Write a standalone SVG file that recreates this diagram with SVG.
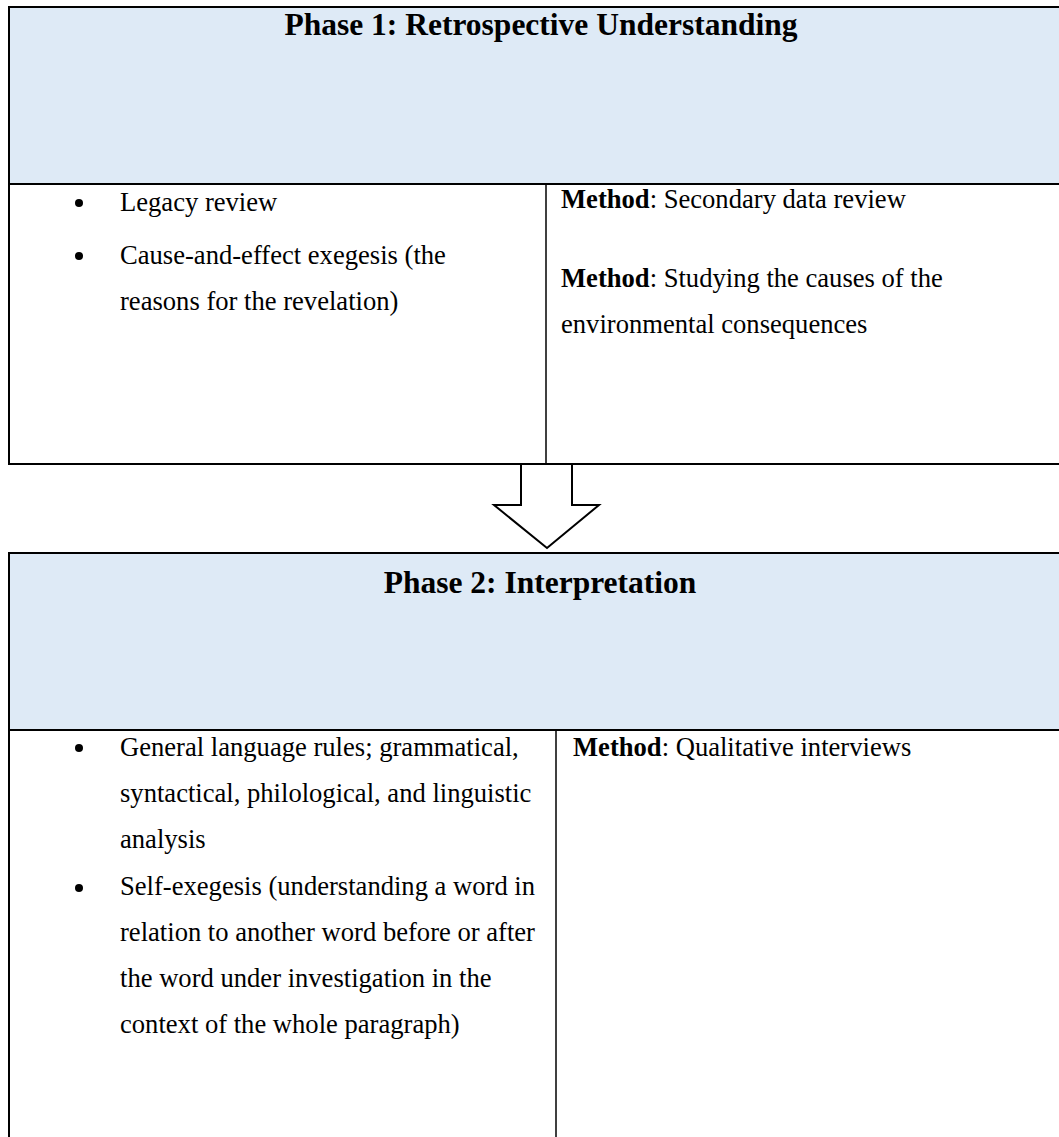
<svg xmlns="http://www.w3.org/2000/svg" width="1059" height="1137" viewBox="0 0 1059 1137">
<style>
.hdr{fill:#DEEAF6;stroke:none}
.line{stroke:#000;stroke-width:2;fill:none}
.div{stroke:#000;stroke-width:1.5;fill:none}
.title{font-family:"Liberation Serif","Times New Roman",serif;font-weight:bold;font-size:31.5px;fill:#000;text-anchor:middle}
.t{font-family:"Liberation Serif","Times New Roman",serif;font-size:26.6px;fill:#000}
.b{font-weight:bold}
.bul{fill:#000}
.arrow{stroke:#000;stroke-width:2;fill:#fff}
</style>
<rect width="1059" height="1137" fill="#fff"/>
<g id="phase1">
<rect class="hdr" x="9" y="7" width="1060" height="177"/>
<path class="line" d="M1070,7 H9 V464 H1070 M9,184 H1070"/>
<path class="div" d="M546,184 V464"/>
<text class="title" x="541" y="35">Phase 1: Retrospective Understanding</text>
<circle class="bul" cx="79" cy="203" r="4"/>
<text class="t" x="120" y="211">Legacy review</text>
<circle class="bul" cx="79" cy="256" r="4"/>
<text class="t" x="120" y="264">Cause-and-effect exegesis (the</text>
<text class="t" x="120" y="310">reasons for the revelation)</text>
<text class="t" x="561" y="208"><tspan class="b">Method</tspan>: Secondary data review</text>
<text class="t" x="561" y="287"><tspan class="b">Method</tspan>: Studying the causes of the</text>
<text class="t" x="561" y="333">environmental consequences</text>
</g>
<g id="connectors">
<polygon class="arrow" points="521,464 572,464 572,505 599,505 547,548 494,505 521,505"/>
</g>
<g id="phase2">
<rect class="hdr" x="9" y="553" width="1060" height="177"/>
<path class="line" d="M1070,553 H9 V1140 M9,730 H1070"/>
<path class="div" d="M556,730 V1140"/>
<text class="title" x="540" y="593">Phase 2: Interpretation</text>
<circle class="bul" cx="79" cy="748" r="4"/>
<text class="t" x="120" y="756">General language rules; grammatical,</text>
<text class="t" x="120" y="802">syntactical, philological, and linguistic</text>
<text class="t" x="120" y="848">analysis</text>
<circle class="bul" cx="79" cy="888" r="4"/>
<text class="t" x="120" y="895">Self-exegesis (understanding a word in</text>
<text class="t" x="120" y="941">relation to another word before or after</text>
<text class="t" x="120" y="987">the word under investigation in the</text>
<text class="t" x="120" y="1033">context of the whole paragraph)</text>
<text class="t" x="573" y="756"><tspan class="b">Method</tspan>: Qualitative interviews</text>
</g>
</svg>
